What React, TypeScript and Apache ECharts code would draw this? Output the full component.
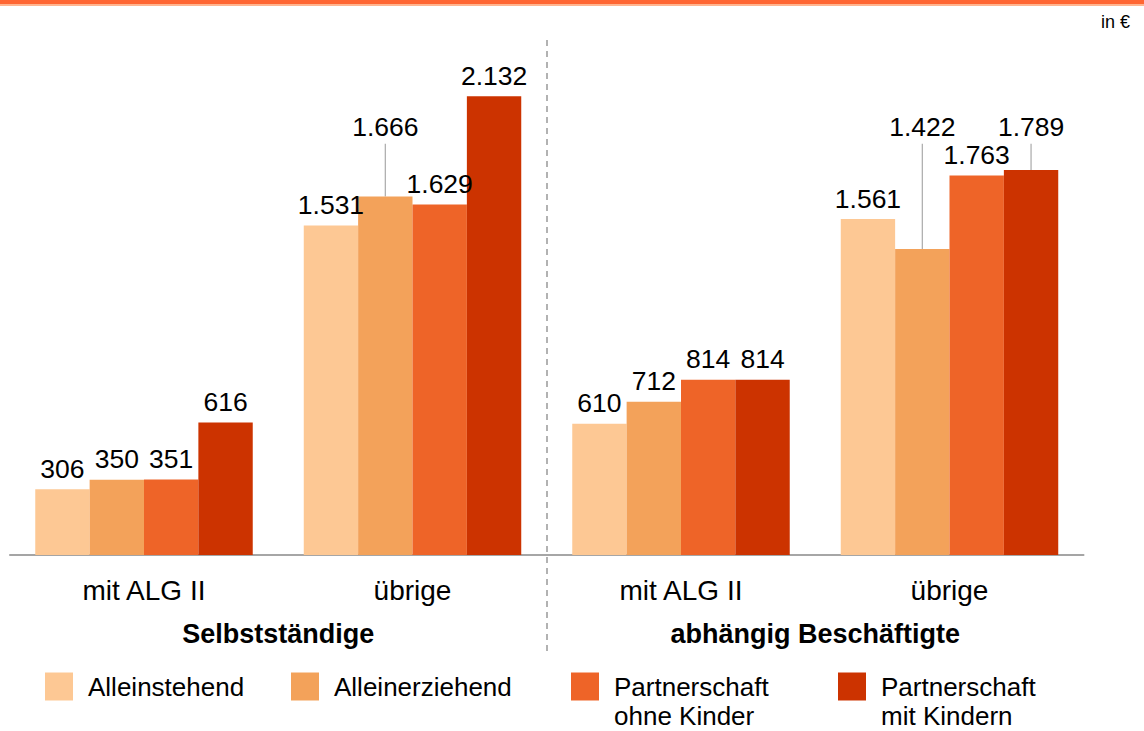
import React, { useEffect, useRef } from "react";
import * as echarts from "echarts";

// ---- data ----
const categories = ["mit ALG II", "übrige", "mit ALG II", "übrige"];
const groupNames = ["Selbstständige", "abhängig Beschäftigte"];
const seriesNames = [
  "Alleinstehend",
  "Alleinerziehend",
  "Partnerschaft ohne Kinder",
  "Partnerschaft mit Kindern",
];
const alleinstehend = [306, 1531, 610, 1561];
const alleinerziehend = [350, 1666, 712, 1422];
const partnerOhneKinder = [351, 1629, 814, 1763];
const partnerMitKindern = [616, 2132, 814, 1789];
const seriesValues = [alleinstehend, alleinerziehend, partnerOhneKinder, partnerMitKindern];
// labels lifted above the bars with a leader line: [category index, series index]
const callouts = [
  [1, 1],
  [3, 1],
  [3, 3],
];

// ---- style ----
const COLORS = ["#FDC894", "#F3A25A", "#EE6428", "#CC3300"];
const FONT = "'Liberation Sans', Arial, Helvetica, sans-serif";
const CAT_GAP = 0.19;
const CALLOUT_LEVEL = 1990;
const LABEL_SIZE = 26.5;
const LEGEND_LH = 29.5;

const fmt = (v: number) =>
  v >= 1000 ? Math.floor(v / 1000) + "." + String(v % 1000).padStart(3, "0") : String(v);

const isCallout = (c: number, s: number) => callouts.some(([cc, ss]) => cc === c && ss === s);

export default function App() {
  const ref = useRef<HTMLDivElement>(null);

  useEffect(() => {
    if (!ref.current) return;
    const chart = echarts.init(ref.current, undefined, { renderer: "svg" });

    const barSeries = seriesNames.map((name, s) => ({
      type: "bar",
      name,
      xAxisIndex: 0,
      yAxisIndex: 0,
      barGap: "0%",
      barCategoryGap: CAT_GAP * 100 + "%",
      itemStyle: { color: COLORS[s] },
      label: {
        show: true,
        position: "top",
        distance: 7,
        fontSize: LABEL_SIZE,
        fontFamily: FONT,
        color: "#000",
        formatter: (p: any) => fmt(p.value),
      },
      data: seriesValues[s].map((v, c) =>
        isCallout(c, s) ? { value: v, label: { show: false } } : v
      ),
    }));

    const calloutSeries = {
      type: "custom",
      xAxisIndex: 0,
      yAxisIndex: 0,
      silent: true,
      encode: { x: 0, y: 2 },
      data: callouts.map(([c, s]) => [c, s, seriesValues[s][c]]),
      renderItem: (params: any, api: any) => {
        const c = api.value(0);
        const s = api.value(1);
        const v = api.value(2);
        const band = api.size([1, 0])[0];
        const barW = (band * (1 - CAT_GAP)) / 4;
        const cx = api.coord([c, 0])[0] + (s - 1.5) * barW;
        const top = api.coord([c, v])[1];
        const ly = api.coord([c, CALLOUT_LEVEL])[1];
        return {
          type: "group",
          children: [
            {
              type: "line",
              shape: { x1: cx, y1: ly + 17, x2: cx, y2: top },
              style: { stroke: "#AAAAAA", lineWidth: 1.2 },
            },
            {
              type: "text",
              x: cx,
              y: ly,
              style: {
                text: fmt(v),
                fontSize: LABEL_SIZE,
                fontFamily: FONT,
                fill: "#000",
                align: "center",
                verticalAlign: "middle",
              },
            },
          ],
        };
      },
    };

    const legendBase = {
      icon: "rect",
      itemWidth: 28,
      itemHeight: 28,
      padding: 0,
      selectedMode: false,
      // blank first line keeps the first text line level with the swatch
      formatter: (n: string) =>
        n.startsWith("Partnerschaft ") ? "\n" + n.replace(/^Partnerschaft /, "Partnerschaft\n") : n,
      textStyle: {
        fontSize: 26,
        lineHeight: LEGEND_LH,
        fontFamily: FONT,
        color: "#000",
        padding: [0, 0, 0, 10],
      },
    };
    const legendCenter = 686.5;
    const topOne = legendCenter - LEGEND_LH / 2;
    const topTwo = legendCenter - (LEGEND_LH * 3) / 2;

    chart.setOption({
      animation: false,
      grid: { left: 9.75, width: 1074, top: 38.5, bottom: 176 },
      xAxis: [
        {
          type: "category",
          data: categories,
          position: "bottom",
          axisLine: { show: true, lineStyle: { color: "#888", width: 1.5 } },
          axisTick: { show: false },
          axisLabel: { fontSize: 28, fontFamily: FONT, color: "#000", margin: 21 },
        },
        {
          type: "category",
          data: groupNames,
          position: "bottom",
          offset: 57,
          axisLine: { show: false },
          axisTick: { show: false },
          axisLabel: {
            fontSize: 27,
            fontWeight: "bold",
            fontFamily: FONT,
            color: "#000",
            margin: 8,
          },
        },
      ],
      yAxis: {
        type: "value",
        min: 0,
        max: 2400,
        show: false,
        splitLine: { show: false },
      },
      legend: [
        { ...legendBase, data: [seriesNames[0]], left: 45, top: topOne },
        { ...legendBase, data: [seriesNames[1]], left: 291, top: topOne },
        { ...legendBase, data: [seriesNames[2]], left: 571, top: topTwo },
        { ...legendBase, data: [seriesNames[3]], left: 838, top: topTwo },
      ],
      graphic: [
        { type: "rect", left: 0, top: 0, shape: { width: 1144, height: 4 }, style: { fill: "#FF6633" } },
        { type: "rect", left: 0, top: 4, shape: { width: 1144, height: 2 }, style: { fill: "#FFB590" } },
        {
          type: "text",
          right: 14,
          top: 13,
          style: { text: "in €", fontSize: 18, fontFamily: FONT, fill: "#000" },
        },
        {
          type: "line",
          shape: { x1: 547, y1: 40, x2: 547, y2: 655 },
          style: { stroke: "#999", lineWidth: 1.5, lineDash: [6, 5] },
        },
      ],
      series: [...barSeries, calloutSeries],
    });

    return () => chart.dispose();
  }, []);

  return (
    <div
      ref={ref}
      style={{ position: "absolute", left: 0, top: 0, width: 1144, height: 731 }}
    />
  );
}
